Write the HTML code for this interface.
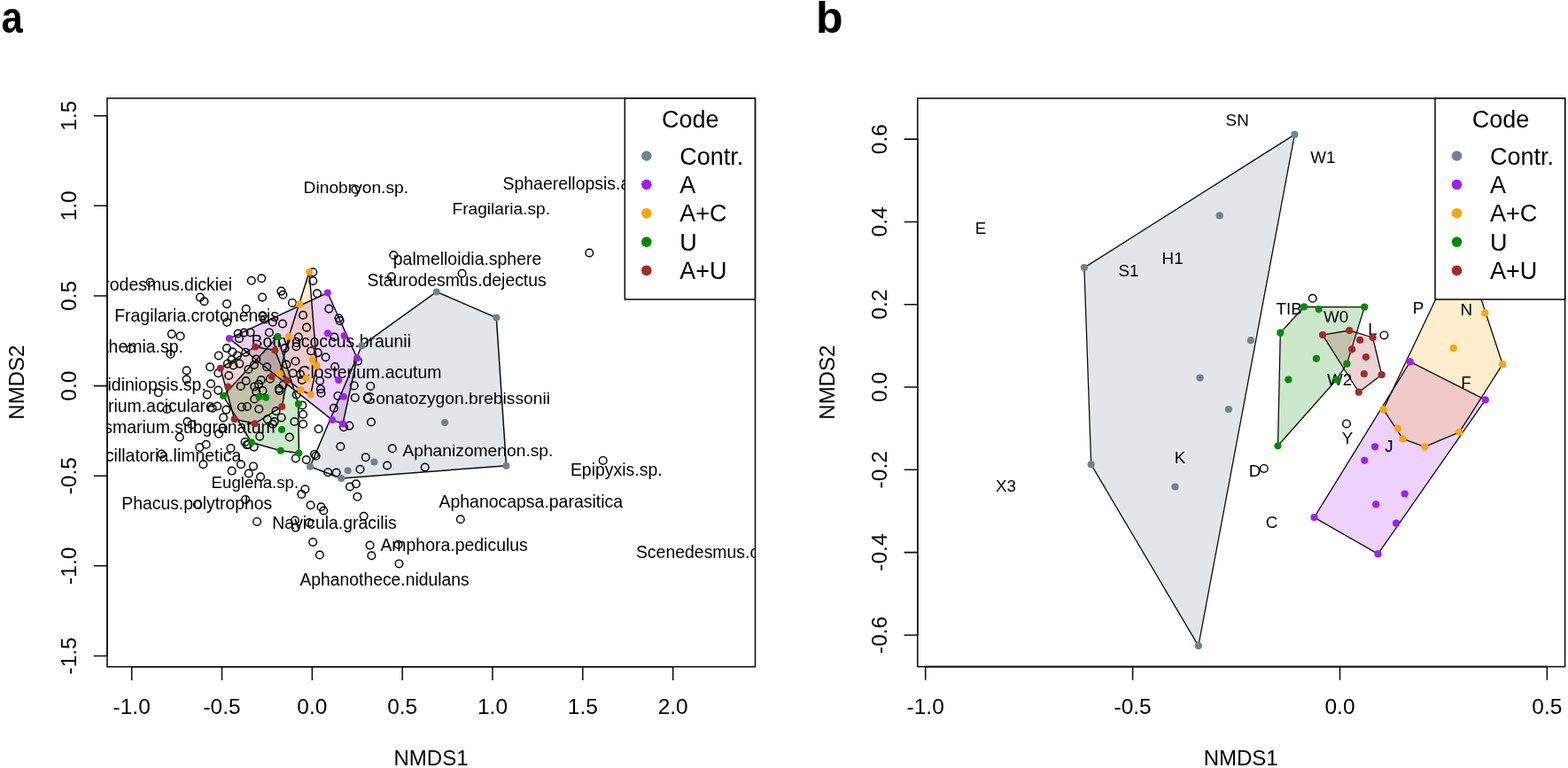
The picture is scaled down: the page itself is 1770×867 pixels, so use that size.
<!DOCTYPE html>
<html lang="en"><head><meta charset="utf-8"><title>NMDS ordination</title>
<style>
html,body{margin:0;padding:0;background:#fff;}
body{width:1770px;height:867px;overflow:hidden;}
svg{display:block;font-family:"Liberation Sans", Arial, sans-serif;fill:#000;}
</style></head><body>
<svg width="1770" height="867" viewBox="0 0 1770 867">
<defs>
<clipPath id="ca"><rect x="121.0" y="110.9" width="731.5" height="641.8000000000001"/></clipPath>
<clipPath id="cb"><rect x="1035.8" y="111" width="730.8" height="641.6"/></clipPath>
</defs>
<rect width="1770" height="867" fill="#fff"/>
<text transform="translate(1.5 37) scale(0.872 1)" font-size="50" font-weight="bold">a</text>
<text x="921" y="37" font-size="50" font-weight="bold">b</text>
<!-- panel a -->
<g clip-path="url(#ca)">
<polygon points="350,526.7 408.3,390.2 492.8,329.4 560.3,358.6 571.5,525.7 385.2,540" fill="#6c8490" fill-opacity="0.2"/>
<polygon points="258.8,382.1 369.8,330.5 403.1,404.2 387,478.5 375.1,474.1" fill="#a020f0" fill-opacity="0.2"/>
<polygon points="315.9,421.8 326.1,379.7 349.1,307 357.6,412.9 350.7,445.5 339.6,440.5" fill="#ffa500" fill-opacity="0.2"/>
<polygon points="252,446.8 313.6,380.1 336.8,456 337.4,511.6 316.8,508.7 283.8,499.5" fill="#008b00" fill-opacity="0.2"/>
<polygon points="248.8,415.7 288.1,391.4 310.4,395.6 323.8,429.5 318.3,458.9 287.6,478.3 264.6,473.2" fill="#a52a2a" fill-opacity="0.2"/>
<g font-size="19.45"><text x="342.6" y="218.0" font-size="19.22">Dinobryon.sp.</text><text x="567.5" y="213.9">Sphaerellopsis.aulata</text><text x="510.5" y="242.1" font-size="19.12">Fragilaria.sp.</text><text x="443.8" y="299.4" font-size="19.47">palmelloidia.sphere</text><text x="414.5" y="323.2" font-size="19.35">Staurodesmus.dejectus</text><text x="262.1" y="327.9" text-anchor="end">Staurodesmus.dickiei</text><text x="129.2" y="362.5" font-size="19.44">Fragilaria.crotonensis</text><text x="464" y="392.3" text-anchor="end">Botryococcus.braunii</text><text x="206.9" y="398.1" text-anchor="end">Epithemia.sp.</text><text x="498.4" y="426.9" text-anchor="end">Closterium.acutum</text><text x="232.8" y="441.2" text-anchor="end">Peridiniopsis.sp.</text><text x="409.2" y="456.2" font-size="19.26">Gonatozygon.brebissonii</text><text x="242.9" y="464.8" text-anchor="end">Closterium.aciculare</text><text x="310.7" y="488.8" text-anchor="end">Cosmarium.subgranatum</text><text x="454.4" y="515.1" font-size="19.24">Aphanizomenon.sp.</text><text x="272.3" y="521.0" text-anchor="end">Oscillatoria.limnetica</text><text x="643.9" y="536.8">Epipyxis.sp.</text><text x="238.6" y="550.6" font-size="18.66">Euglena.sp.</text><text x="137.3" y="575.0" font-size="19.35">Phacus.polytrophos</text><text x="495.5" y="572.9" font-size="19.46">Aphanocapsa.parasitica</text><text x="307.3" y="597.4" font-size="19.46">Navicula.gracilis</text><text x="429.4" y="622.3" font-size="19.45">Amphora.pediculus</text><text x="717.9" y="629.9">Scenedesmus.opoliensis</text><text x="338.4" y="660.5" font-size="19.33">Aphanothece.nidulans</text></g>
<g fill="none" stroke="#000" stroke-width="1.45"><circle cx="401.4" cy="213.9" r="4.3"/><circle cx="444.3" cy="288" r="4.3"/><circle cx="665.3" cy="285.5" r="4.3"/><circle cx="521.6" cy="308.8" r="4.3"/><circle cx="442" cy="312.2" r="4.3"/><circle cx="353.3" cy="307.3" r="4.3"/><circle cx="353.3" cy="317.1" r="4.3"/><circle cx="358" cy="331.3" r="4.3"/><circle cx="169.6" cy="318.8" r="4.3"/><circle cx="283.8" cy="316.8" r="4.3"/><circle cx="295.3" cy="314.2" r="4.3"/><circle cx="225.9" cy="335.6" r="4.3"/><circle cx="230.5" cy="340.2" r="4.3"/><circle cx="256.1" cy="343.1" r="4.3"/><circle cx="296.1" cy="335.6" r="4.3"/><circle cx="317.5" cy="328.6" r="4.3"/><circle cx="319.4" cy="332.8" r="4.3"/><circle cx="277.8" cy="348.8" r="4.3"/><circle cx="256.3" cy="363.8" r="4.3"/><circle cx="296.5" cy="356.3" r="4.3"/><circle cx="298.8" cy="360.4" r="4.3"/><circle cx="307.8" cy="363.8" r="4.3"/><circle cx="319" cy="365.5" r="4.3"/><circle cx="193.8" cy="377.1" r="4.3"/><circle cx="203.6" cy="379.4" r="4.3"/><circle cx="268.8" cy="376.5" r="4.3"/><circle cx="275.6" cy="375.5" r="4.3"/><circle cx="282.6" cy="375.3" r="4.3"/><circle cx="270" cy="382.2" r="4.3"/><circle cx="304" cy="375.4" r="4.3"/><circle cx="330" cy="341.9" r="4.3"/><circle cx="342.1" cy="355.7" r="4.3"/><circle cx="371.3" cy="348.6" r="4.3"/><circle cx="382.5" cy="359.2" r="4.3"/><circle cx="383.6" cy="362.1" r="4.3"/><circle cx="346.1" cy="369.6" r="4.3"/><circle cx="336.9" cy="380.5" r="4.3"/><circle cx="377.3" cy="380.5" r="4.3"/><circle cx="256" cy="393.1" r="4.3"/><circle cx="262.4" cy="397.2" r="4.3"/><circle cx="246.8" cy="401.4" r="4.3"/><circle cx="268" cy="401.4" r="4.3"/><circle cx="261.5" cy="406" r="4.3"/><circle cx="277.2" cy="397.7" r="4.3"/><circle cx="256.9" cy="410.6" r="4.3"/><circle cx="263.4" cy="412.4" r="4.3"/><circle cx="270.3" cy="410.6" r="4.3"/><circle cx="237.1" cy="414.3" r="4.3"/><circle cx="246.3" cy="421.2" r="4.3"/><circle cx="258.3" cy="424" r="4.3"/><circle cx="280.4" cy="417" r="4.3"/><circle cx="286.9" cy="412" r="4.3"/><circle cx="289.2" cy="405.5" r="4.3"/><circle cx="301.2" cy="414.3" r="4.3"/><circle cx="334.4" cy="391.2" r="4.3"/><circle cx="321.5" cy="393.1" r="4.3"/><circle cx="351" cy="396.3" r="4.3"/><circle cx="358.8" cy="398.1" r="4.3"/><circle cx="367.6" cy="403.2" r="4.3"/><circle cx="333.5" cy="407.8" r="4.3"/><circle cx="323.3" cy="411.5" r="4.3"/><circle cx="330.7" cy="421.2" r="4.3"/><circle cx="339" cy="422.6" r="4.3"/><circle cx="340.8" cy="429" r="4.3"/><circle cx="361.1" cy="430" r="4.3"/><circle cx="362" cy="439.2" r="4.3"/><circle cx="362.5" cy="443.8" r="4.3"/><circle cx="238" cy="433.2" r="4.3"/><circle cx="246.3" cy="440.6" r="4.3"/><circle cx="233.8" cy="445.6" r="4.3"/><circle cx="277.7" cy="430" r="4.3"/><circle cx="271.7" cy="436" r="4.3"/><circle cx="294.7" cy="429" r="4.3"/><circle cx="292" cy="433.7" r="4.3"/><circle cx="287.3" cy="436.4" r="4.3"/><circle cx="289.2" cy="442" r="4.3"/><circle cx="296.6" cy="441" r="4.3"/><circle cx="304.9" cy="427.7" r="4.3"/><circle cx="315" cy="438.7" r="4.3"/><circle cx="319.6" cy="434.6" r="4.3"/><circle cx="245.2" cy="458.5" r="4.3"/><circle cx="239.7" cy="460.8" r="4.3"/><circle cx="255.4" cy="462.6" r="4.3"/><circle cx="252.1" cy="471.4" r="4.3"/><circle cx="211.5" cy="476" r="4.3"/><circle cx="216.6" cy="479.2" r="4.3"/><circle cx="251.7" cy="483.4" r="4.3"/><circle cx="247" cy="489.8" r="4.3"/><circle cx="202.8" cy="493.5" r="4.3"/><circle cx="272.9" cy="459.4" r="4.3"/><circle cx="278.9" cy="458.9" r="4.3"/><circle cx="292.3" cy="461.7" r="4.3"/><circle cx="287.2" cy="450.5" r="4.3"/><circle cx="311.6" cy="464" r="4.3"/><circle cx="317.6" cy="471.4" r="4.3"/><circle cx="301.9" cy="473.2" r="4.3"/><circle cx="309.8" cy="476" r="4.3"/><circle cx="307.9" cy="478.7" r="4.3"/><circle cx="332.4" cy="476" r="4.3"/><circle cx="342.1" cy="467.7" r="4.3"/><circle cx="342.1" cy="478.7" r="4.3"/><circle cx="341.3" cy="457.5" r="4.3"/><circle cx="359.6" cy="484.3" r="4.3"/><circle cx="293.2" cy="492.6" r="4.3"/><circle cx="326.8" cy="493.5" r="4.3"/><circle cx="276.6" cy="499" r="4.3"/><circle cx="280.3" cy="501.8" r="4.3"/><circle cx="286.7" cy="504.6" r="4.3"/><circle cx="232.7" cy="501.8" r="4.3"/><circle cx="225.4" cy="505" r="4.3"/><circle cx="260.4" cy="506" r="4.3"/><circle cx="334.7" cy="445.5" r="4.3"/><circle cx="315.3" cy="440.9" r="4.3"/><circle cx="333.8" cy="517.5" r="4.3"/><circle cx="345.8" cy="519" r="4.3"/><circle cx="355" cy="512.9" r="4.3"/><circle cx="356.6" cy="514.8" r="4.3"/><circle cx="378.1" cy="414" r="4.3"/><circle cx="404" cy="407.7" r="4.3"/><circle cx="399.7" cy="435.4" r="4.3"/><circle cx="418.2" cy="435.9" r="4.3"/><circle cx="381.5" cy="446.9" r="4.3"/><circle cx="400.8" cy="448.9" r="4.3"/><circle cx="415" cy="449.2" r="4.3"/><circle cx="376.9" cy="460.7" r="4.3"/><circle cx="419" cy="476.5" r="4.3"/><circle cx="394.4" cy="480.6" r="4.3"/><circle cx="388" cy="482.3" r="4.3"/><circle cx="384.4" cy="504" r="4.3"/><circle cx="442.8" cy="506.3" r="4.3"/><circle cx="412.8" cy="516.3" r="4.3"/><circle cx="437.1" cy="525.5" r="4.3"/><circle cx="479.7" cy="527.5" r="4.3"/><circle cx="406.5" cy="529.8" r="4.3"/><circle cx="370.2" cy="533.3" r="4.3"/><circle cx="379.7" cy="533.6" r="4.3"/><circle cx="401.9" cy="546.3" r="4.3"/><circle cx="395" cy="549.5" r="4.3"/><circle cx="403.4" cy="560.8" r="4.3"/><circle cx="680.7" cy="519.9" r="4.3"/><circle cx="147.5" cy="393.7" r="4.3"/><circle cx="192.5" cy="399.8" r="4.3"/><circle cx="210.6" cy="418.2" r="4.3"/><circle cx="210.6" cy="428.2" r="4.3"/><circle cx="178.8" cy="443.3" r="4.3"/><circle cx="188.6" cy="462" r="4.3"/><circle cx="182.4" cy="512.6" r="4.3"/><circle cx="229.4" cy="524.2" r="4.3"/><circle cx="272" cy="524.2" r="4.3"/><circle cx="261.7" cy="531.6" r="4.3"/><circle cx="286" cy="526.4" r="4.3"/><circle cx="280.8" cy="534.5" r="4.3"/><circle cx="294.1" cy="538.2" r="4.3"/><circle cx="344.4" cy="552.3" r="4.3"/><circle cx="340.4" cy="557.9" r="4.3"/><circle cx="277.2" cy="563.9" r="4.3"/><circle cx="222.8" cy="569.5" r="4.3"/><circle cx="350.6" cy="570.2" r="4.3"/><circle cx="362.5" cy="572.2" r="4.3"/><circle cx="365.3" cy="576.5" r="4.3"/><circle cx="290.1" cy="588.9" r="4.3"/><circle cx="333" cy="587.6" r="4.3"/><circle cx="333.7" cy="595.6" r="4.3"/><circle cx="349" cy="590" r="4.3"/><circle cx="353.2" cy="612" r="4.3"/><circle cx="360.9" cy="626.5" r="4.3"/><circle cx="410.7" cy="582.8" r="4.3"/><circle cx="417.6" cy="615.6" r="4.3"/><circle cx="419.4" cy="627.2" r="4.3"/><circle cx="449.6" cy="614.8" r="4.3"/><circle cx="450.5" cy="636.4" r="4.3"/><circle cx="519.8" cy="586.2" r="4.3"/><circle cx="278.6" cy="502.2" r="4.3"/></g>
<polygon points="350,526.7 408.3,390.2 492.8,329.4 560.3,358.6 571.5,525.7 385.2,540" fill="none" stroke="#0d0d0d" stroke-width="1.5" stroke-linejoin="round"/>
<polygon points="258.8,382.1 369.8,330.5 403.1,404.2 387,478.5 375.1,474.1" fill="none" stroke="#0d0d0d" stroke-width="1.5" stroke-linejoin="round"/>
<polygon points="315.9,421.8 326.1,379.7 349.1,307 357.6,412.9 350.7,445.5 339.6,440.5" fill="none" stroke="#0d0d0d" stroke-width="1.5" stroke-linejoin="round"/>
<polygon points="252,446.8 313.6,380.1 336.8,456 337.4,511.6 316.8,508.7 283.8,499.5" fill="none" stroke="#0d0d0d" stroke-width="1.5" stroke-linejoin="round"/>
<polygon points="248.8,415.7 288.1,391.4 310.4,395.6 323.8,429.5 318.3,458.9 287.6,478.3 264.6,473.2" fill="none" stroke="#0d0d0d" stroke-width="1.5" stroke-linejoin="round"/>
<g fill="#6c8490"><circle cx="492.8" cy="329.4" r="4.0"/><circle cx="408.3" cy="390.2" r="4.0"/><circle cx="560.3" cy="358.6" r="4.0"/><circle cx="571.5" cy="525.7" r="4.0"/><circle cx="385.2" cy="540" r="4.0"/><circle cx="350" cy="526.7" r="4.0"/><circle cx="502.1" cy="477" r="4.0"/><circle cx="422.4" cy="521.5" r="4.0"/><circle cx="392.7" cy="531.3" r="4.0"/></g>
<g fill="#a020f0"><circle cx="258.8" cy="382.1" r="4.0"/><circle cx="369.8" cy="330.5" r="4.0"/><circle cx="370" cy="376.2" r="4.0"/><circle cx="388.6" cy="379" r="4.0"/><circle cx="403.1" cy="404.2" r="4.0"/><circle cx="382.1" cy="429" r="4.0"/><circle cx="387.9" cy="447.8" r="4.0"/><circle cx="375.1" cy="474.1" r="4.0"/><circle cx="387" cy="478.5" r="4.0"/></g>
<g fill="#ffa500"><circle cx="349.1" cy="307" r="4.0"/><circle cx="338.1" cy="343.6" r="4.0"/><circle cx="326.1" cy="379.7" r="4.0"/><circle cx="352.8" cy="406.2" r="4.0"/><circle cx="357.6" cy="412.9" r="4.0"/><circle cx="315.9" cy="421.8" r="4.0"/><circle cx="345.7" cy="426.9" r="4.0"/><circle cx="339.6" cy="440.5" r="4.0"/><circle cx="350.7" cy="445.5" r="4.0"/></g>
<g fill="#008b00"><circle cx="313.6" cy="380.1" r="4.0"/><circle cx="252" cy="446.8" r="4.0"/><circle cx="292.4" cy="447.9" r="4.0"/><circle cx="300.2" cy="448.8" r="4.0"/><circle cx="336.8" cy="456" r="4.0"/><circle cx="318.1" cy="485" r="4.0"/><circle cx="283.8" cy="499.5" r="4.0"/><circle cx="316.8" cy="508.7" r="4.0"/><circle cx="337.4" cy="511.6" r="4.0"/></g>
<g fill="#a52a2a"><circle cx="288.1" cy="391.4" r="4.0"/><circle cx="310.4" cy="395.6" r="4.0"/><circle cx="248.8" cy="415.7" r="4.0"/><circle cx="306.7" cy="424.9" r="4.0"/><circle cx="323.8" cy="429.5" r="4.0"/><circle cx="257.4" cy="436.6" r="4.0"/><circle cx="318.3" cy="458.9" r="4.0"/><circle cx="264.6" cy="473.2" r="4.0"/><circle cx="287.6" cy="478.3" r="4.0"/></g>
</g>
<rect x="121.0" y="110.9" width="731.5" height="641.8000000000001" fill="none" stroke="#0d0d0d" stroke-width="1.55"/>
<path d="M148.7 752.7H759.7M148.7 752.7v15.2M250.5 752.7v15.2M352.4 752.7v15.2M454.2 752.7v15.2M556.0 752.7v15.2M657.8 752.7v15.2M759.7 752.7v15.2" stroke="#0d0d0d" stroke-width="1.55" fill="none"/>
<text x="148.7" y="805.7" text-anchor="middle" font-size="24.5">-1.0</text>
<text x="250.5" y="805.7" text-anchor="middle" font-size="24.5">-0.5</text>
<text x="352.4" y="805.7" text-anchor="middle" font-size="24.5">0.0</text>
<text x="454.2" y="805.7" text-anchor="middle" font-size="24.5">0.5</text>
<text x="556.0" y="805.7" text-anchor="middle" font-size="24.5">1.0</text>
<text x="657.8" y="805.7" text-anchor="middle" font-size="24.5">1.5</text>
<text x="759.7" y="805.7" text-anchor="middle" font-size="24.5">2.0</text>
<path d="M121.0 130.7V740.4M121.0 130.7h-15.2M121.0 232.3h-15.2M121.0 334h-15.2M121.0 435.6h-15.2M121.0 537.2h-15.2M121.0 638.8h-15.2M121.0 740.4h-15.2" stroke="#0d0d0d" stroke-width="1.55" fill="none"/>
<text transform="translate(86.0 130.7) rotate(-90)" text-anchor="middle" font-size="24.5">1.5</text>
<text transform="translate(86.0 232.3) rotate(-90)" text-anchor="middle" font-size="24.5">1.0</text>
<text transform="translate(86.0 334) rotate(-90)" text-anchor="middle" font-size="24.5">0.5</text>
<text transform="translate(86.0 435.6) rotate(-90)" text-anchor="middle" font-size="24.5">0.0</text>
<text transform="translate(86.0 537.2) rotate(-90)" text-anchor="middle" font-size="24.5">-0.5</text>
<text transform="translate(86.0 638.8) rotate(-90)" text-anchor="middle" font-size="24.5">-1.0</text>
<text transform="translate(86.0 740.4) rotate(-90)" text-anchor="middle" font-size="24.5">-1.5</text>
<text x="486.5" y="864" text-anchor="middle" font-size="24">NMDS1</text>
<text transform="translate(27.0 431.7) rotate(-90)" text-anchor="middle" font-size="24">NMDS2</text>
<rect x="705.3" y="111" width="147.10000000000002" height="227" fill="#fff" stroke="#0d0d0d" stroke-width="1.55"/>
<text x="779.3" y="143.8" text-anchor="middle" font-size="27">Code</text>
<circle cx="729.8" cy="176.0" r="5.8" fill="#6c8490"/>
<text x="767.3" y="185.7" font-size="27">Contr.</text>
<circle cx="729.8" cy="208.3" r="5.8" fill="#a020f0"/>
<text x="767.3" y="218.0" font-size="27">A</text>
<circle cx="729.8" cy="240.7" r="5.8" fill="#ffa500"/>
<text x="767.3" y="250.4" font-size="27">A+C</text>
<circle cx="729.8" cy="273.1" r="5.8" fill="#008b00"/>
<text x="767.3" y="282.8" font-size="27">U</text>
<circle cx="729.8" cy="305.4" r="5.8" fill="#a52a2a"/>
<text x="767.3" y="315.1" font-size="27">A+U</text>
<!-- panel b -->
<g clip-path="url(#cb)">
<polygon points="1223.9,302.1 1461.4,151.9 1352.8,729.1 1231.7,524.3" fill="#6c8490" fill-opacity="0.2"/>
<polygon points="1483.5,584.1 1591.8,408.4 1676.8,451.3 1555.5,625.4" fill="#a020f0" fill-opacity="0.2"/>
<polygon points="1561.5,462.2 1651,274 1696.2,411.2 1647.4,487.8 1608.3,504.3 1583.5,495.4" fill="#ffa500" fill-opacity="0.2"/>
<polygon points="1442.5,503.3 1445.3,375.7 1472,346.3 1540.3,346.6 1520.4,410.7 1508.8,428.5" fill="#008b00" fill-opacity="0.2"/>
<polygon points="1493,378.1 1523.3,373 1549.6,381 1559.7,423 1533.8,442.7" fill="#a52a2a" fill-opacity="0.2"/>
<g font-size="18.8"><text x="1107" y="263.7" text-anchor="middle">E</text><text x="1274.1" y="311.7" text-anchor="middle">S1</text><text x="1323.6" y="297.6" text-anchor="middle">H1</text><text x="1389.8" y="141.9" text-anchor="middle">S</text><text x="1403" y="141.9" text-anchor="middle">N</text><text x="1493.4" y="184.3" text-anchor="middle">W1</text><text x="1135.4" y="554.8" text-anchor="middle">X3</text><text x="1332" y="522.8" text-anchor="middle">K</text><text x="1416.6" y="537.6" text-anchor="middle">D</text><text x="1455.1" y="355.0" text-anchor="middle">TIB</text><text x="1508" y="364.2" text-anchor="middle">W0</text><text x="1549.5" y="378.4" text-anchor="middle">L</text><text x="1512" y="434.6" text-anchor="middle">W2</text><text x="1601" y="354.2" text-anchor="middle">P</text><text x="1655.4" y="355.8" text-anchor="middle">N</text><text x="1655" y="437.7" text-anchor="middle">F</text><text x="1568" y="509.6" text-anchor="middle">J</text><text x="1521.1" y="501.3" text-anchor="middle">Y</text><text x="1435.5" y="596.2" text-anchor="middle">C</text></g>
<g fill="none" stroke="#000" stroke-width="1.45"><circle cx="1481.7" cy="336.8" r="4.3"/><circle cx="1562.4" cy="378.4" r="4.3"/><circle cx="1520" cy="478.4" r="4.3"/><circle cx="1426.8" cy="528.9" r="4.3"/></g>
<polygon points="1223.9,302.1 1461.4,151.9 1352.8,729.1 1231.7,524.3" fill="none" stroke="#0d0d0d" stroke-width="1.3" stroke-linejoin="round"/>
<polygon points="1483.5,584.1 1591.8,408.4 1676.8,451.3 1555.5,625.4" fill="none" stroke="#0d0d0d" stroke-width="1.3" stroke-linejoin="round"/>
<polygon points="1561.5,462.2 1651,274 1696.2,411.2 1647.4,487.8 1608.3,504.3 1583.5,495.4" fill="none" stroke="#0d0d0d" stroke-width="1.3" stroke-linejoin="round"/>
<polygon points="1442.5,503.3 1445.3,375.7 1472,346.3 1540.3,346.6 1520.4,410.7 1508.8,428.5" fill="none" stroke="#0d0d0d" stroke-width="1.3" stroke-linejoin="round"/>
<polygon points="1493,378.1 1523.3,373 1549.6,381 1559.7,423 1533.8,442.7" fill="none" stroke="#0d0d0d" stroke-width="1.3" stroke-linejoin="round"/>
<g fill="#6c8490"><circle cx="1223.9" cy="302.1" r="4.1"/><circle cx="1376.7" cy="243.4" r="4.1"/><circle cx="1411.9" cy="384.2" r="4.1"/><circle cx="1354.6" cy="426.5" r="4.1"/><circle cx="1461.4" cy="151.9" r="4.1"/><circle cx="1386.9" cy="462.1" r="4.1"/><circle cx="1231.7" cy="524.3" r="4.1"/><circle cx="1326.5" cy="549.5" r="4.1"/><circle cx="1352.8" cy="729.1" r="4.1"/></g>
<g fill="#a020f0"><circle cx="1591.8" cy="408.4" r="4.1"/><circle cx="1676.8" cy="451.3" r="4.1"/><circle cx="1552.1" cy="504.3" r="4.1"/><circle cx="1540.3" cy="519.8" r="4.1"/><circle cx="1585.7" cy="557.5" r="4.1"/><circle cx="1553.2" cy="569.3" r="4.1"/><circle cx="1576.1" cy="590.7" r="4.1"/><circle cx="1483.5" cy="584.1" r="4.1"/><circle cx="1555.5" cy="625.4" r="4.1"/></g>
<g fill="#ffa500"><circle cx="1676.3" cy="353.4" r="4.1"/><circle cx="1640.8" cy="393.1" r="4.1"/><circle cx="1696.2" cy="411.2" r="4.1"/><circle cx="1561.5" cy="462.2" r="4.1"/><circle cx="1577.9" cy="483.6" r="4.1"/><circle cx="1583.5" cy="495.4" r="4.1"/><circle cx="1608.3" cy="504.3" r="4.1"/><circle cx="1647.4" cy="487.8" r="4.1"/><circle cx="1651" cy="274" r="4.1"/></g>
<g fill="#008b00"><circle cx="1472" cy="346.3" r="4.1"/><circle cx="1488.6" cy="349.1" r="4.1"/><circle cx="1540.3" cy="346.6" r="4.1"/><circle cx="1445.3" cy="375.7" r="4.1"/><circle cx="1485.9" cy="404.8" r="4.1"/><circle cx="1520.4" cy="410.7" r="4.1"/><circle cx="1454.4" cy="428.5" r="4.1"/><circle cx="1508.8" cy="428.5" r="4.1"/><circle cx="1442.5" cy="503.3" r="4.1"/></g>
<g fill="#a52a2a"><circle cx="1493" cy="378.1" r="4.1"/><circle cx="1523.3" cy="373" r="4.1"/><circle cx="1549.6" cy="381" r="4.1"/><circle cx="1535.1" cy="383.8" r="4.1"/><circle cx="1526.1" cy="394.3" r="4.1"/><circle cx="1541.9" cy="403.1" r="4.1"/><circle cx="1539.8" cy="422" r="4.1"/><circle cx="1559.7" cy="423" r="4.1"/><circle cx="1533.8" cy="442.7" r="4.1"/></g>
</g>
<rect x="1035.8" y="111" width="730.8" height="641.6" fill="none" stroke="#0d0d0d" stroke-width="1.55"/>
<path d="M1044.7 752.6H1746.4M1044.7 752.6v15.2M1278.6 752.6v15.2M1512.5 752.6v15.2M1746.4 752.6v15.2" stroke="#0d0d0d" stroke-width="1.55" fill="none"/>
<text x="1044.7" y="805.6" text-anchor="middle" font-size="24.5">-1.0</text>
<text x="1278.6" y="805.6" text-anchor="middle" font-size="24.5">-0.5</text>
<text x="1512.5" y="805.6" text-anchor="middle" font-size="24.5">0.0</text>
<text x="1746.4" y="805.6" text-anchor="middle" font-size="24.5">0.5</text>
<path d="M1035.8 157.1V716.9M1035.8 157.1h-15.2M1035.8 250.4h-15.2M1035.8 343.7h-15.2M1035.8 437h-15.2M1035.8 530.3h-15.2M1035.8 623.6h-15.2M1035.8 716.9h-15.2" stroke="#0d0d0d" stroke-width="1.55" fill="none"/>
<text transform="translate(1000.8 157.1) rotate(-90)" text-anchor="middle" font-size="24.5">0.6</text>
<text transform="translate(1000.8 250.4) rotate(-90)" text-anchor="middle" font-size="24.5">0.4</text>
<text transform="translate(1000.8 343.7) rotate(-90)" text-anchor="middle" font-size="24.5">0.2</text>
<text transform="translate(1000.8 437) rotate(-90)" text-anchor="middle" font-size="24.5">0.0</text>
<text transform="translate(1000.8 530.3) rotate(-90)" text-anchor="middle" font-size="24.5">-0.2</text>
<text transform="translate(1000.8 623.6) rotate(-90)" text-anchor="middle" font-size="24.5">-0.4</text>
<text transform="translate(1000.8 716.9) rotate(-90)" text-anchor="middle" font-size="24.5">-0.6</text>
<text x="1400.7" y="864" text-anchor="middle" font-size="24">NMDS1</text>
<text transform="translate(941.8 431.7) rotate(-90)" text-anchor="middle" font-size="24">NMDS2</text>
<rect x="1620" y="111" width="146.5999999999999" height="227" fill="#fff" stroke="#0d0d0d" stroke-width="1.55"/>
<text x="1694" y="143.8" text-anchor="middle" font-size="27">Code</text>
<circle cx="1644.5" cy="176.0" r="5.8" fill="#6c8490"/>
<text x="1682" y="185.7" font-size="27">Contr.</text>
<circle cx="1644.5" cy="208.3" r="5.8" fill="#a020f0"/>
<text x="1682" y="218.0" font-size="27">A</text>
<circle cx="1644.5" cy="240.7" r="5.8" fill="#ffa500"/>
<text x="1682" y="250.4" font-size="27">A+C</text>
<circle cx="1644.5" cy="273.1" r="5.8" fill="#008b00"/>
<text x="1682" y="282.8" font-size="27">U</text>
<circle cx="1644.5" cy="305.4" r="5.8" fill="#a52a2a"/>
<text x="1682" y="315.1" font-size="27">A+U</text>
</svg>
</body></html>
